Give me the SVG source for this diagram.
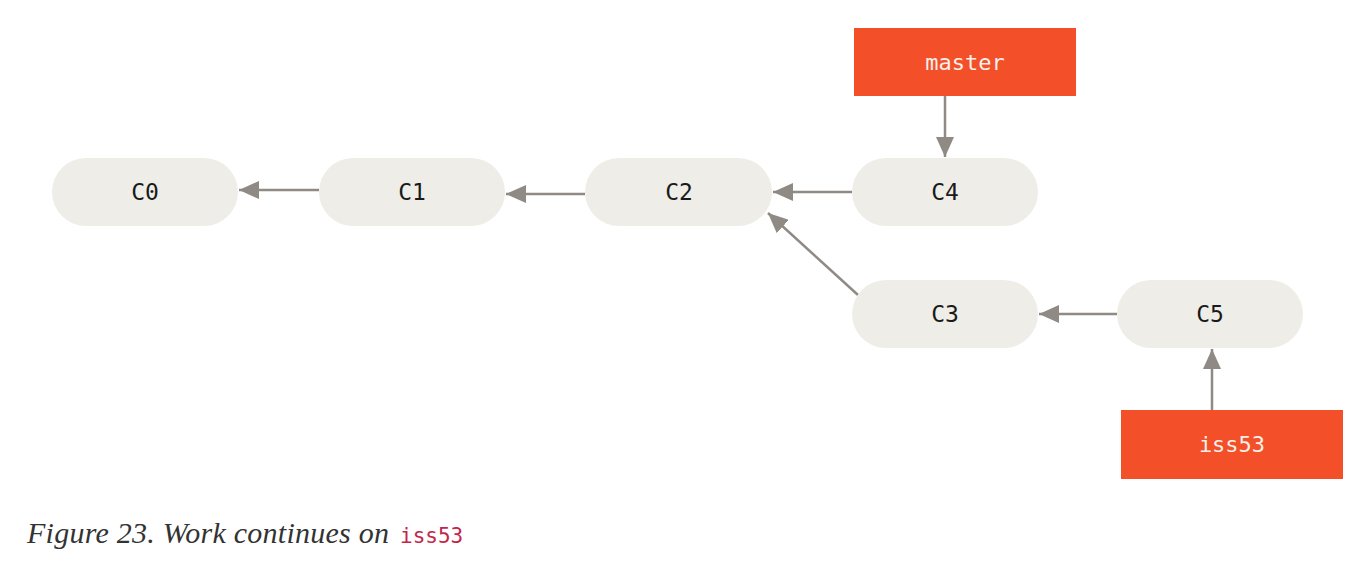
<svg xmlns="http://www.w3.org/2000/svg" width="1368" height="562" viewBox="0 0 1368 562">
<style>
.commit rect{fill:#eeede7}
.commit text{font-family:"DejaVu Sans Mono","Liberation Mono",monospace;font-size:23px;fill:#1a1a1a;text-anchor:middle;dominant-baseline:central}
.branch rect{fill:#f34f29}
.branch text{font-family:"DejaVu Sans Mono","Liberation Mono",monospace;font-size:22px;fill:#f5f0ea;text-anchor:middle;dominant-baseline:central}
.edge{stroke:#8f8a83;stroke-width:2.5;fill:none;marker-end:url(#ah)}
.cap{font-family:"Liberation Serif",serif;font-style:italic;font-size:30px;fill:#333}
.capcode{font-family:"DejaVu Sans Mono","Liberation Mono",monospace;font-style:normal;font-size:21px;fill:#c1264c}
</style>
<defs>
<marker id="ah" viewBox="0 0 20 18" refX="20" refY="9" markerWidth="20" markerHeight="18" markerUnits="userSpaceOnUse" orient="auto">
<path d="M0,0 L20,9 L0,18 Z" fill="#8f8a83"/>
</marker>
</defs>
<g id="connectors">
<line class="edge" x1="319" y1="190" x2="239" y2="190"/>
<line class="edge" x1="585" y1="194" x2="506" y2="194"/>
<line class="edge" x1="852" y1="192" x2="773" y2="192"/>
<line class="edge" x1="858" y1="295" x2="768" y2="213"/>
<line class="edge" x1="1117" y1="314" x2="1039" y2="314"/>
<line class="edge" x1="945" y1="96" x2="945" y2="157"/>
<line class="edge" x1="1212" y1="410" x2="1212" y2="349"/>
</g>
<g id="C0" class="commit"><rect x="52" y="158" width="186" height="68" rx="34"/><text x="145" y="192">C0</text></g>
<g id="C1" class="commit"><rect x="319" y="158" width="186" height="68" rx="34"/><text x="412" y="192">C1</text></g>
<g id="C2" class="commit"><rect x="585" y="158" width="187" height="68" rx="34"/><text x="679" y="192">C2</text></g>
<g id="C4" class="commit"><rect x="852" y="158" width="186" height="68" rx="34"/><text x="945" y="192">C4</text></g>
<g id="C3" class="commit"><rect x="852" y="280" width="186" height="68" rx="34"/><text x="945" y="314">C3</text></g>
<g id="C5" class="commit"><rect x="1117" y="280" width="186" height="68" rx="34"/><text x="1210" y="314">C5</text></g>
<g id="master" class="branch"><rect x="854" y="28" width="222" height="68"/><text x="965" y="62">master</text></g>
<g id="iss53" class="branch"><rect x="1121" y="410" width="222" height="69"/><text x="1232" y="444">iss53</text></g>
<g id="caption"><text class="cap" x="27" y="543" textLength="362" lengthAdjust="spacing">Figure 23. Work continues on</text><text class="capcode" x="400" y="543">iss53</text></g>
</svg>
